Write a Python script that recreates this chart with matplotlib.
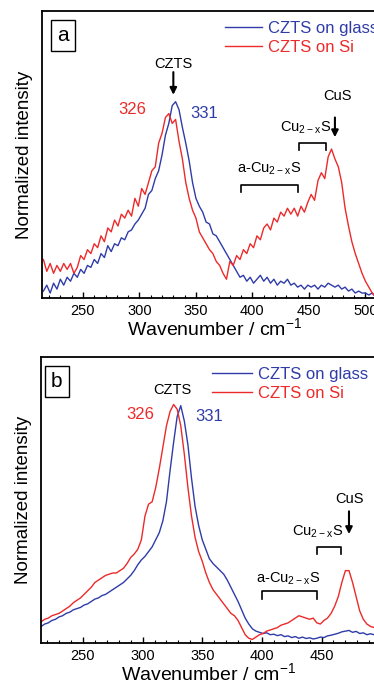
import numpy as np
import matplotlib
matplotlib.use("Agg")
import matplotlib.pyplot as plt
from matplotlib.ticker import MultipleLocator

plt.rcParams['font.family'] = ['Liberation Sans', 'DejaVu Sans']
plt.rcParams['mathtext.default'] = 'regular'

BLUE = '#2f3ca8'
RED = '#ec2a2a'

# panel a: noisy spectra, sampled every 3 cm-1 from 215
glass_a = [0.03, 0.06, 0.02, 0.07, 0.04, 0.09, 0.06, 0.10, 0.08, 0.12,
           0.10, 0.14, 0.12, 0.16, 0.15, 0.19, 0.17, 0.22, 0.20, 0.26,
           0.23, 0.27, 0.26, 0.30, 0.29, 0.33, 0.34, 0.37, 0.39, 0.42,
           0.45, 0.52, 0.54, 0.60, 0.64, 0.72, 0.82, 0.88, 0.97, 0.99,
           0.95, 0.86, 0.78, 0.69, 0.58, 0.50, 0.46, 0.43, 0.38, 0.37,
           0.32, 0.31, 0.28, 0.25, 0.22, 0.19, 0.16, 0.13, 0.10, 0.11,
           0.08, 0.10, 0.07, 0.09, 0.11, 0.08, 0.10, 0.07, 0.09, 0.06,
           0.08, 0.07, 0.09, 0.06, 0.07, 0.05, 0.06, 0.04, 0.06, 0.05,
           0.06, 0.04, 0.06, 0.05, 0.07, 0.06, 0.05, 0.06, 0.04, 0.05,
           0.03, 0.04, 0.02, 0.03, 0.02, 0.02, 0.01, 0.02, 0.00]
si_a = [0.19, 0.13, 0.17, 0.12, 0.16, 0.13, 0.17, 0.14, 0.17, 0.12,
        0.15, 0.21, 0.19, 0.24, 0.22, 0.27, 0.25, 0.31, 0.28, 0.35,
        0.33, 0.39, 0.36, 0.42, 0.40, 0.44, 0.41, 0.50, 0.46, 0.55,
        0.52, 0.58, 0.64, 0.66, 0.78, 0.83, 0.91, 0.93, 0.88, 0.90,
        0.79, 0.70, 0.58, 0.50, 0.44, 0.40, 0.33, 0.30, 0.27, 0.24,
        0.22, 0.18, 0.16, 0.12, 0.09, 0.18, 0.16, 0.21, 0.19, 0.24,
        0.22, 0.27, 0.25, 0.31, 0.29, 0.35, 0.37, 0.34, 0.40, 0.38,
        0.43, 0.41, 0.45, 0.42, 0.45, 0.41, 0.46, 0.43, 0.48, 0.52,
        0.49, 0.59, 0.63, 0.60, 0.71, 0.75, 0.70, 0.66, 0.58, 0.45,
        0.36, 0.28, 0.22, 0.17, 0.12, 0.08, 0.05, 0.02, 0.00]

# panel b: smoother spectra, same sampling
glass_b = [0.065, 0.075, 0.08, 0.09, 0.095, 0.105, 0.11, 0.12, 0.125, 0.135,
           0.14, 0.145, 0.155, 0.16, 0.17, 0.18, 0.185, 0.195, 0.20, 0.21,
           0.22, 0.23, 0.24, 0.25, 0.265, 0.28, 0.30, 0.325, 0.345, 0.36,
           0.38, 0.40, 0.43, 0.46, 0.51, 0.59, 0.72, 0.84, 0.95, 0.995,
           0.93, 0.83, 0.69, 0.57, 0.49, 0.43, 0.39, 0.35, 0.33, 0.315,
           0.30, 0.285, 0.26, 0.23, 0.20, 0.17, 0.135, 0.10, 0.075, 0.055,
           0.045, 0.04, 0.035, 0.038, 0.03, 0.032, 0.026, 0.03, 0.022, 0.025,
           0.018, 0.022, 0.015, 0.02, 0.014, 0.017, 0.012, 0.015, 0.02, 0.018,
           0.025, 0.028, 0.032, 0.036, 0.042, 0.045, 0.048, 0.04, 0.044, 0.035,
           0.038, 0.03, 0.034, 0.03, 0.032, 0.03]
si_b = [0.085, 0.095, 0.10, 0.11, 0.115, 0.12, 0.13, 0.14, 0.15, 0.165,
        0.175, 0.185, 0.20, 0.215, 0.23, 0.25, 0.26, 0.27, 0.28, 0.285,
        0.29, 0.29, 0.30, 0.31, 0.33, 0.355, 0.37, 0.39, 0.43, 0.53,
        0.58, 0.59, 0.65, 0.73, 0.82, 0.91, 0.97, 1.00, 0.98, 0.91,
        0.79, 0.65, 0.53, 0.44, 0.38, 0.34, 0.29, 0.25, 0.22, 0.20,
        0.18, 0.16, 0.14, 0.12, 0.11, 0.09, 0.06, 0.03, 0.015, 0.01,
        0.02, 0.03, 0.035, 0.045, 0.05, 0.055, 0.06, 0.07, 0.075, 0.08,
        0.09, 0.10, 0.11, 0.105, 0.10, 0.095, 0.10, 0.08, 0.075, 0.09,
        0.10, 0.12, 0.15, 0.19, 0.25, 0.30, 0.30, 0.25, 0.19, 0.13,
        0.095, 0.075, 0.065, 0.06, 0.06, 0.055]

wave_a = 215 + 3 * np.arange(len(glass_a))
wave_b = 215 + 3 * np.arange(len(glass_b))

fig = plt.figure(figsize=(3.74, 6.85), dpi=100)
ax1 = fig.add_axes([0.1115, 0.565, 0.926, 0.419])
ax2 = fig.add_axes([0.1088, 0.0613, 0.8977, 0.4175])


def style(ax, xlim, ylim):
    ax.set_xlim(*xlim)
    ax.set_ylim(*ylim)
    ax.set_yticks([])
    ax.xaxis.set_major_locator(MultipleLocator(50))
    ax.xaxis.set_minor_locator(MultipleLocator(10))
    ax.tick_params(axis='x', which='major', direction='in', length=4, width=1,
                   labelsize=10.5, pad=4)
    ax.tick_params(axis='x', which='minor', direction='in', length=2, width=0.8)
    for s in ax.spines.values():
        s.set_linewidth(1.3)
    ax.set_xlabel('Wavenumber / cm$^{-1}$', fontsize=14, labelpad=0)
    ax.set_ylabel('Normalized intensity', fontsize=13.5, labelpad=6)


def bracket(ax, x0, x1, ytop, ybot):
    ax.plot([x0, x0, x1, x1], [ybot, ytop, ytop, ybot], color='black', lw=1.2)


def arrow(ax, x, y0, y1):
    ax.annotate('', xy=(x, y1), xytext=(x, y0),
                arrowprops=dict(arrowstyle='-|>', color='black', lw=1.5,
                                mutation_scale=10, shrinkA=0, shrinkB=0))


# ---- panel a ----
ax1.plot(wave_a, glass_a, color=BLUE, lw=1.0, label='CZTS on glass')
ax1.plot(wave_a, si_a, color=RED, lw=1.0, label='CZTS on Si')
style(ax1, (213.5, 520), (-0.005, 1.45))
ax1.legend(loc='upper left', bbox_to_anchor=(0.53, 0.965), frameon=False,
           fontsize=12, handlelength=2.2, handletextpad=0.35, borderpad=0,
           labelspacing=0.25, labelcolor='linecolor', borderaxespad=0)
ax1.text(0.062, 0.914, 'a', transform=ax1.transAxes, fontsize=15,
         ha='center', va='center',
         bbox=dict(boxstyle='square,pad=0.3', fc='white', ec='black', lw=1))
ax1.text(330, 1.18, 'CZTS', ha='center', va='center', fontsize=10.5)
arrow(ax1, 330, 1.14, 1.025)
ax1.text(294, 0.95, '326', color=RED, ha='center', va='center', fontsize=12)
ax1.text(357, 0.93, '331', color=BLUE, ha='center', va='center', fontsize=12)
ax1.text(475, 1.02, 'CuS', ha='center', va='center', fontsize=10.5)
arrow(ax1, 473, 0.91, 0.81)
ax1.text(447, 0.86, 'Cu$_{2-x}$S', ha='center', va='center', fontsize=10.5)
bracket(ax1, 441, 465, 0.78, 0.745)
ax1.text(415, 0.65, 'a-Cu$_{2-x}$S', ha='center', va='center', fontsize=10.5)
bracket(ax1, 390, 440, 0.57, 0.53)

# ---- panel b ----
ax2.plot(wave_b, glass_b, color=BLUE, lw=1.0, label='CZTS on glass')
ax2.plot(wave_b, si_b, color=RED, lw=1.0, label='CZTS on Si')
style(ax2, (214.6, 496), (-0.005, 1.2))
ax2.legend(loc='upper left', bbox_to_anchor=(0.51, 0.965), frameon=False,
           fontsize=12, handlelength=2.4, handletextpad=0.35, borderpad=0,
           labelspacing=0.25, labelcolor='linecolor', borderaxespad=0)
ax2.text(0.048, 0.915, 'b', transform=ax2.transAxes, fontsize=15,
         ha='center', va='center',
         bbox=dict(boxstyle='square,pad=0.3', fc='white', ec='black', lw=1))
ax2.text(325, 1.063, 'CZTS', ha='center', va='center', fontsize=10.5)
ax2.text(298, 0.958, '326', color=RED, ha='center', va='center', fontsize=12)
ax2.text(356, 0.95, '331', color=BLUE, ha='center', va='center', fontsize=12)
ax2.text(473.5, 0.60, 'CuS', ha='center', va='center', fontsize=10.5)
arrow(ax2, 473, 0.55, 0.454)
ax2.text(447, 0.462, 'Cu$_{2-x}$S', ha='center', va='center', fontsize=10.5)
bracket(ax2, 446, 466, 0.40, 0.37)
ax2.text(422, 0.265, 'a-Cu$_{2-x}$S', ha='center', va='center', fontsize=10.5)
bracket(ax2, 400, 446, 0.214, 0.18)

fig.savefig('out.png', dpi=100)
